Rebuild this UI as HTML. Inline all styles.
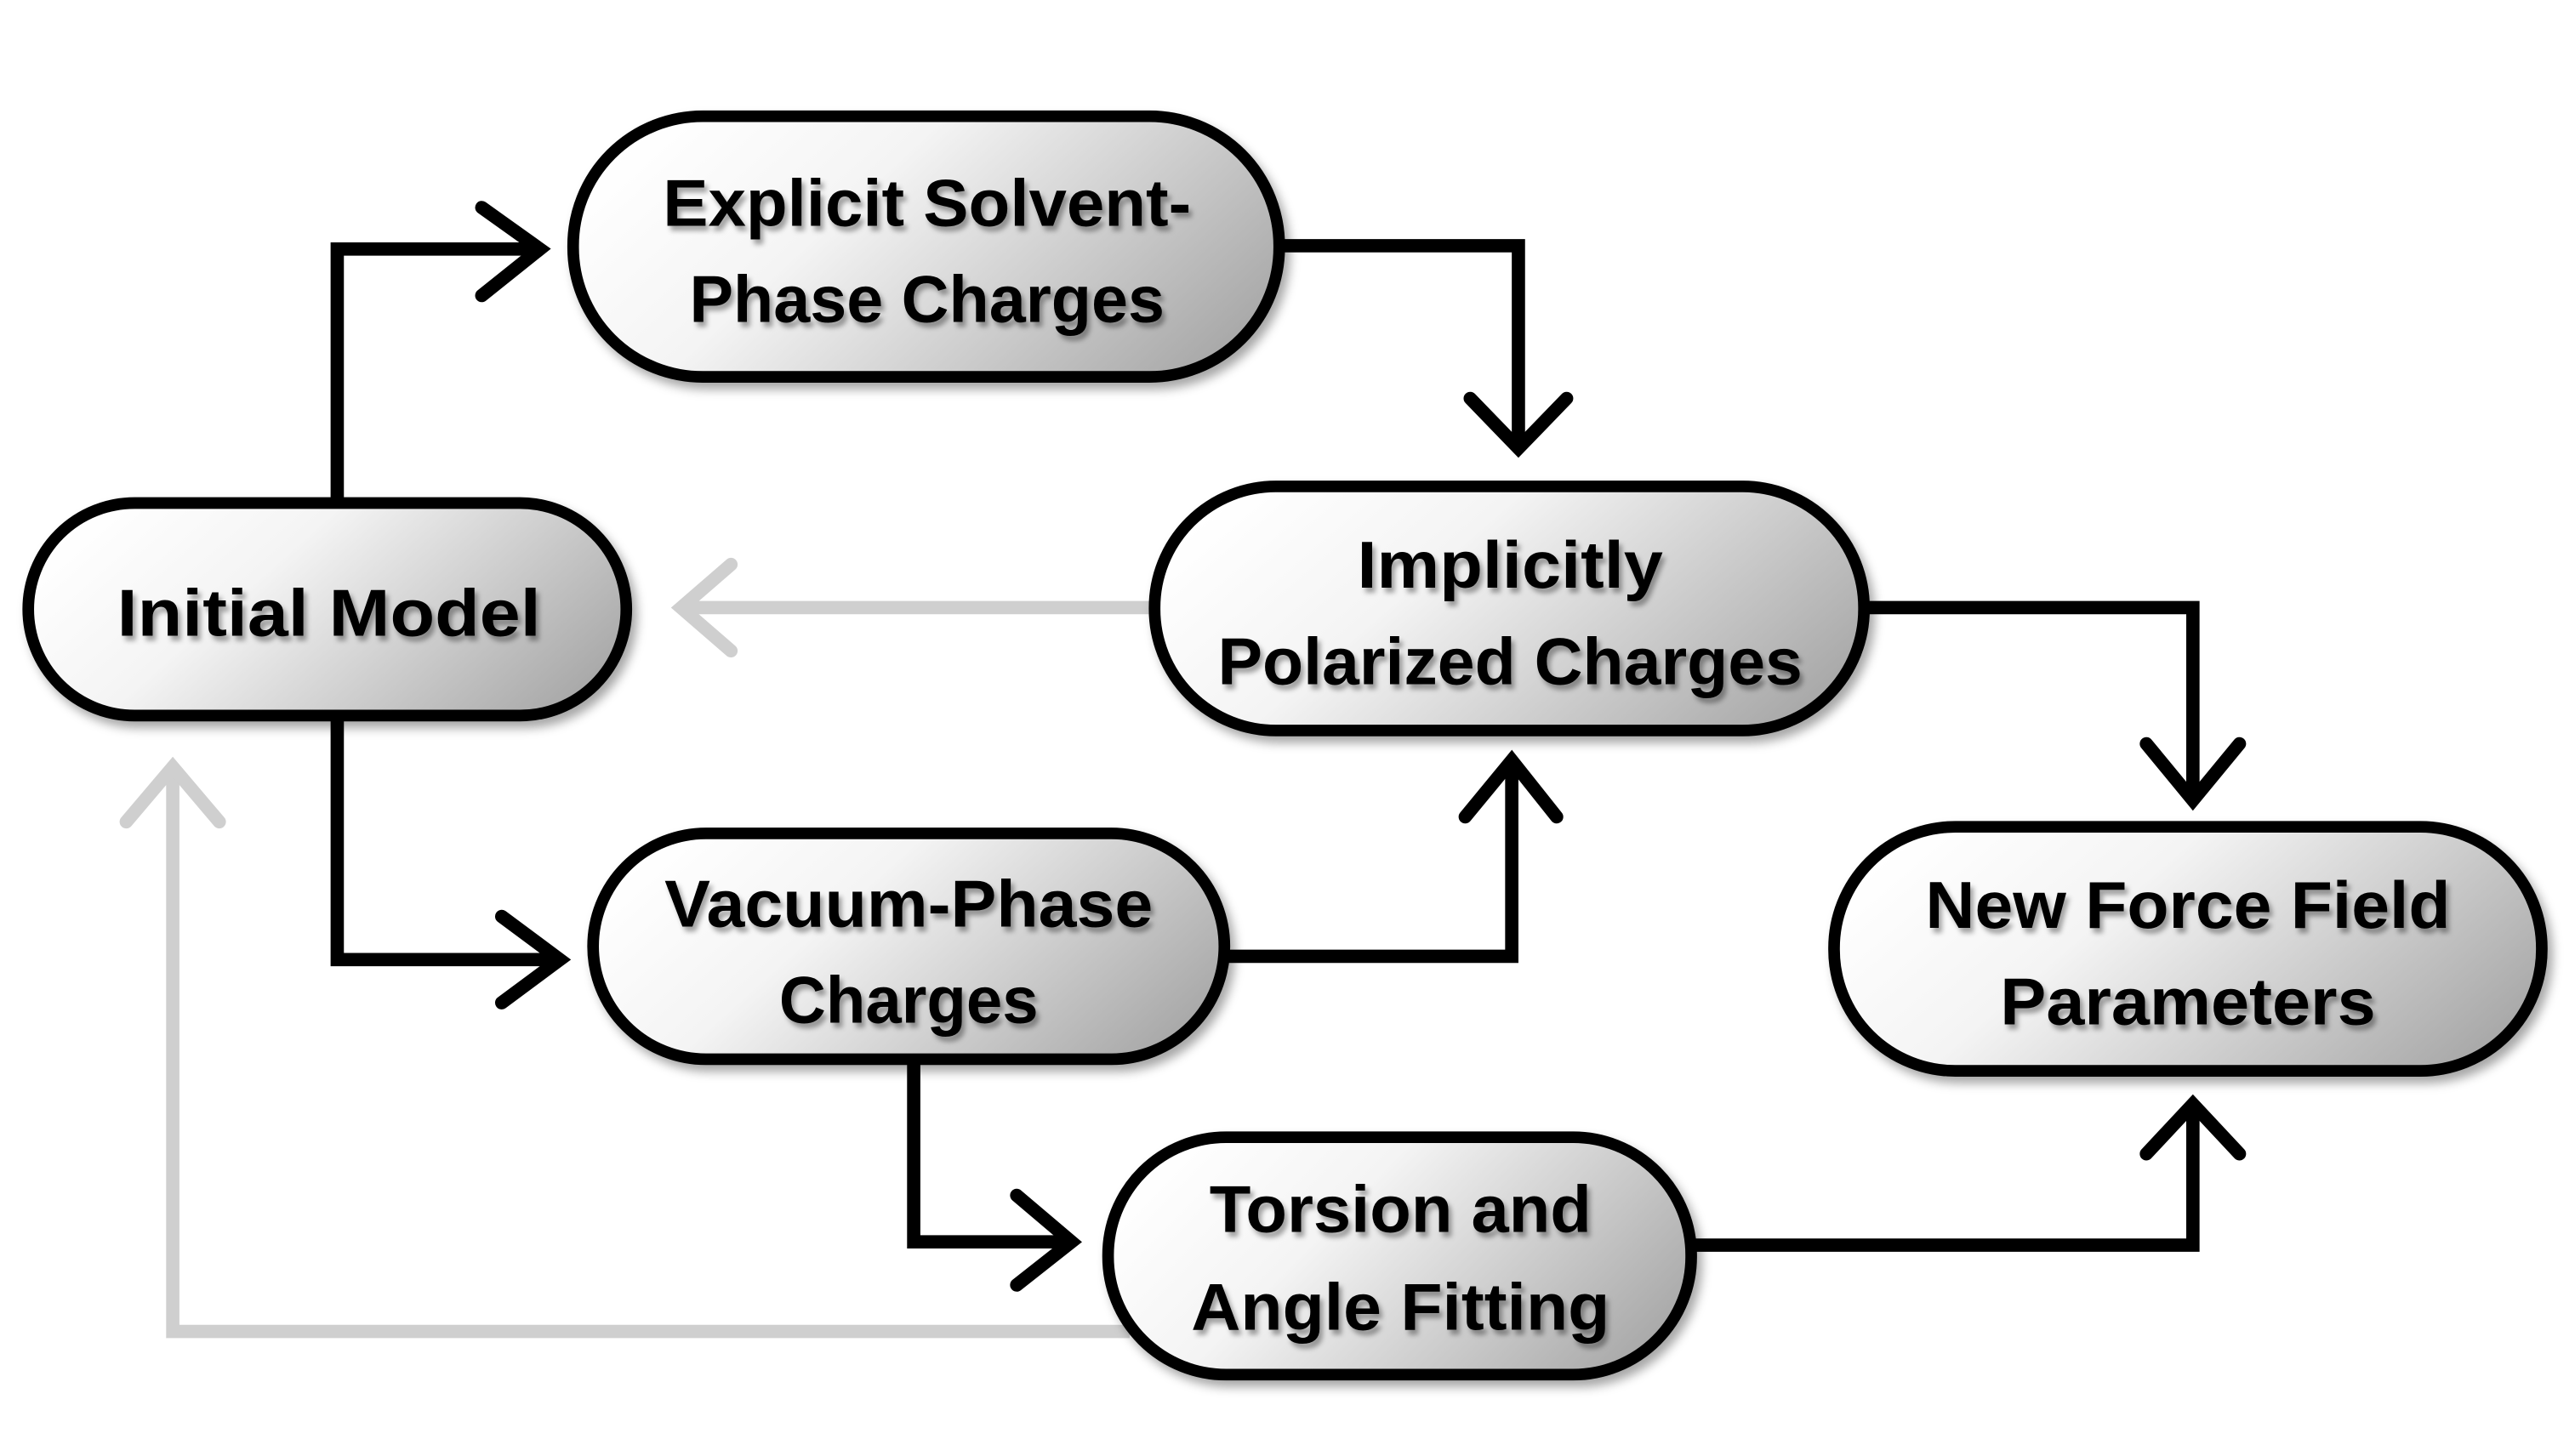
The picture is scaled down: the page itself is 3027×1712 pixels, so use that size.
<!DOCTYPE html>
<html><head><meta charset="utf-8"><style>
html,body{margin:0;padding:0;background:#fff;}
svg{display:block;}
text{font-family:"Liberation Sans Narrow","Liberation Sans",sans-serif;font-weight:bold;font-size:40px;text-anchor:middle;}
</style></head><body>
<svg width="3027" height="1712" viewBox="0 0 1550 877" preserveAspectRatio="none" xmlns="http://www.w3.org/2000/svg">
<defs>
<linearGradient id="g" x1="0" y1="0.3" x2="1" y2="0.7">
<stop offset="0" stop-color="#ffffff"/><stop offset="0.35" stop-color="#f4f4f4"/><stop offset="1" stop-color="#a9a9a9"/>
</linearGradient>
<filter id="s" x="-10%" y="-10%" width="130%" height="130%"><feDropShadow dx="3" dy="4" stdDeviation="3" flood-color="#000" flood-opacity="0.35"/></filter>
<filter id="ts" x="-5%" y="-20%" width="115%" height="150%"><feDropShadow dx="2" dy="3" stdDeviation="1.5" flood-color="#000" flood-opacity="0.35"/></filter>
</defs>
<g fill="none" stroke-linecap="round" stroke-linejoin="miter">
<g stroke="#cfcfcf" stroke-width="8">
<path d="M695 366 H412" stroke-linecap="butt"/>
<path d="M440 340 L410 366 L440 392"/>
<path d="M680 802 H104 V466" stroke-linecap="butt"/>
<path d="M76 495 L104 462 L132 495"/>
</g>
<g stroke="#000" stroke-width="8">
<path d="M203 303 V150 H322" stroke-linecap="butt"/>
<path d="M290 125 L325 150 L290 178"/>
<path d="M770 148 H914 V267" stroke-linecap="butt"/>
<path d="M885 240 L914 270 L943 240"/>
<path d="M203 431 V578 H334" stroke-linecap="butt"/>
<path d="M302 552 L337 578 L302 604"/>
<path d="M737 576 H910 V461" stroke-linecap="butt"/>
<path d="M882 492 L910 458 L937 492"/>
<path d="M550 638 V748 H642" stroke-linecap="butt"/>
<path d="M612 720 L645 748 L612 774"/>
<path d="M1122 366 H1320 V479" stroke-linecap="butt"/>
<path d="M1292 448 L1320 482 L1348 448"/>
<path d="M1018 750 H1320 V668" stroke-linecap="butt"/>
<path d="M1292 695 L1320 665 L1348 695"/>
</g>
</g>
<g fill="url(#g)" stroke="#000" stroke-width="7" filter="url(#s)">
<rect x="345" y="70" width="425" height="157" rx="78" ry="78"/>
<rect x="17" y="303" width="360" height="128" rx="64" ry="64"/>
<rect x="695" y="293" width="427" height="147" rx="73" ry="73"/>
<rect x="357" y="502" width="380" height="136" rx="68" ry="68"/>
<rect x="1104" y="498" width="426" height="147" rx="73" ry="73"/>
<rect x="667" y="685" width="351" height="143" rx="71" ry="71"/>
</g>
<g fill="#000" filter="url(#ts)">
<text x="558" y="136" textLength="318" lengthAdjust="spacingAndGlyphs">Explicit Solvent-</text>
<text x="558" y="194" textLength="286" lengthAdjust="spacingAndGlyphs">Phase Charges</text>
<text x="198" y="383" textLength="255" lengthAdjust="spacingAndGlyphs">Initial Model</text>
<text x="909" y="354" textLength="184" lengthAdjust="spacingAndGlyphs">Implicitly</text>
<text x="909" y="412" textLength="352" lengthAdjust="spacingAndGlyphs">Polarized Charges</text>
<text x="547" y="558" textLength="294" lengthAdjust="spacingAndGlyphs">Vacuum-Phase</text>
<text x="547" y="616" textLength="156" lengthAdjust="spacingAndGlyphs">Charges</text>
<text x="1317" y="559" textLength="316" lengthAdjust="spacingAndGlyphs">New Force Field</text>
<text x="1317" y="617" textLength="226" lengthAdjust="spacingAndGlyphs">Parameters</text>
<text x="843" y="742" textLength="230" lengthAdjust="spacingAndGlyphs">Torsion and</text>
<text x="843" y="801" textLength="252" lengthAdjust="spacingAndGlyphs">Angle Fitting</text>
</g>
</svg>
</body></html>
